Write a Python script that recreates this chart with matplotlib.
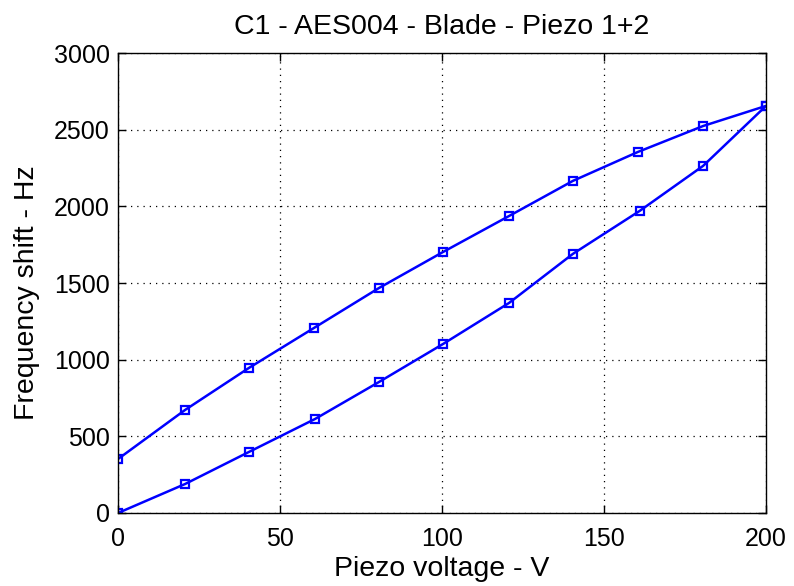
import matplotlib
matplotlib.use("Agg")
import matplotlib.pyplot as plt

plt.rcParams['font.family'] = ['Liberation Sans', 'DejaVu Sans']

# Increasing voltage sweep
volt_up = [0, 20.7, 40.4, 60.8, 80.6, 100.3, 120.7, 140.4, 161.0, 180.6, 200]
shift_up = [0, 189, 398, 613, 855, 1102, 1370, 1690, 1970, 2264, 2655]

# Decreasing voltage sweep
volt_down = [200, 180.6, 160.5, 140.4, 120.7, 100.3, 80.6, 60.5, 40.4, 20.7, 0]
shift_down = [2655, 2524, 2355, 2166, 1937, 1702, 1468, 1207, 946, 672, 352]

title = "C1 - AES004 - Blade - Piezo 1+2"
xlabel = "Piezo voltage - V"
ylabel = "Frequency shift - Hz"
xticks = [0, 50, 100, 150, 200]
yticks = [0, 500, 1000, 1500, 2000, 2500, 3000]

fig = plt.figure(figsize=(7.94, 5.86), dpi=100)
ax = fig.add_axes([118 / 794, 1 - 513 / 586, (766 - 118) / 794, (513 - 53) / 586])

style = dict(color='#0000ff', linewidth=1.8, marker='s', markersize=6,
             markerfacecolor='none', markeredgecolor='#0000ff', markeredgewidth=1.6)
ax.plot(volt_up + volt_down, shift_up + shift_down, **style)

ax.set_xlim(0, 200)
ax.set_ylim(0, 3000)
ax.set_xticks(xticks)
ax.set_yticks(yticks)
ax.tick_params(direction='in', top=True, right=True, length=6, width=1,
               labelsize=18, pad=6)
ax.tick_params(axis='x', pad=10)
ax.grid(True, color='black', linestyle=(0, (1, 4)), linewidth=0.9)
for s in ax.spines.values():
    s.set_linewidth(1.0)

ax.set_title(title, fontsize=20.5, pad=14)
ax.set_xlabel(xlabel, fontsize=20.5, labelpad=4)
ax.set_ylabel(ylabel, fontsize=20.5)
ax.yaxis.set_label_coords(-0.12, 0.48)

fig.savefig("out.png", dpi=100)
